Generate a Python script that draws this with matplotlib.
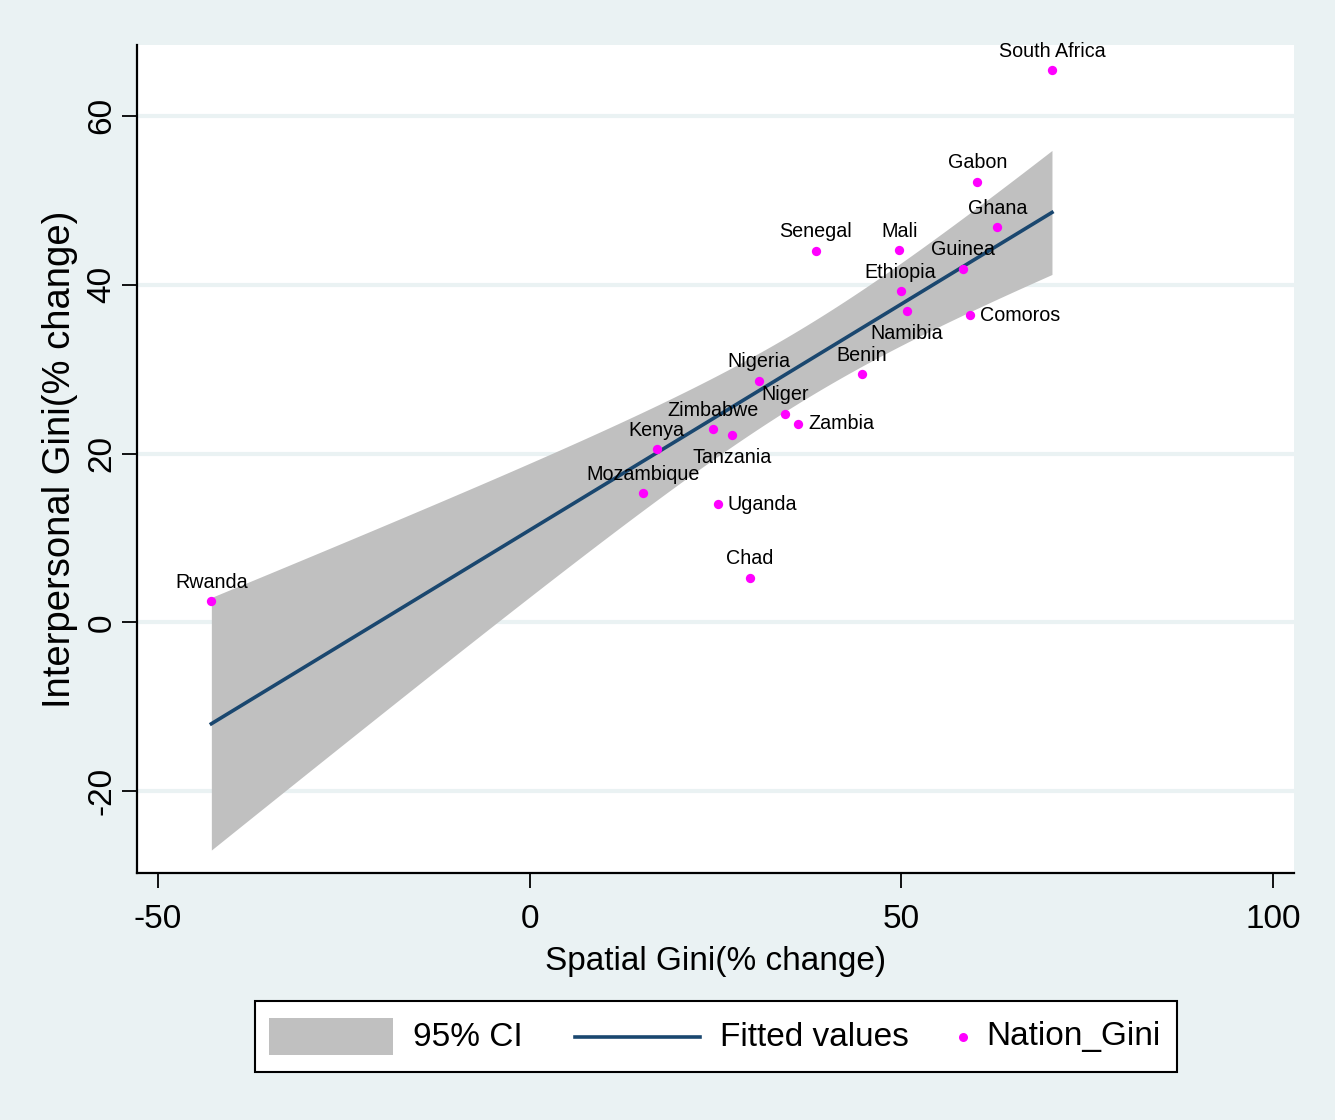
import numpy as np
import matplotlib
matplotlib.use("Agg")
import matplotlib.pyplot as plt
from matplotlib import font_manager
from matplotlib.patches import Rectangle
from matplotlib.lines import Line2D

# country-level change in Gini, percent
countries = ["South Africa", "Gabon", "Ghana", "Mali", "Senegal", "Guinea",
             "Ethiopia", "Namibia", "Comoros", "Benin", "Nigeria", "Niger",
             "Zambia", "Zimbabwe", "Tanzania", "Kenya", "Mozambique",
             "Uganda", "Chad", "Rwanda"]
spatial_gini = [70.25, 60.2, 62.9, 49.7, 38.5, 58.3,
                49.9, 50.7, 59.2, 44.7, 30.8, 34.3,
                36.1, 24.6, 27.2, 17.1, 15.2,
                25.3, 29.6, -42.8]
interp_gini = [65.4, 52.2, 46.8, 44.1, 44.0, 41.9,
               39.2, 36.9, 36.4, 29.4, 28.6, 24.7,
               23.5, 22.9, 22.2, 20.5, 15.3,
               14.0, 5.3, 2.5]

x_ticks = [-50, 0, 50, 100]
y_ticks = [-20, 0, 20, 40, 60]

# marker label position, stata clock style: 12 above, 3 right, 6 below
label_clock = {"Namibia": 6, "Tanzania": 6, "Comoros": 3, "Zambia": 3, "Uganda": 3}

BG = "#EAF2F3"
NAVY = "#1A476F"
BAND = "#C0C0C0"
MAGENTA = "#FF00FF"

names = {f.name for f in font_manager.fontManager.ttflist}
FONT = "Liberation Sans" if "Liberation Sans" in names else "DejaVu Sans"
plt.rcParams["font.family"] = [FONT, "DejaVu Sans"]
plt.rcParams["axes.unicode_minus"] = False

x = np.array(spatial_gini)
y = np.array(interp_gini)

# OLS fit with 95% CI of the mean prediction
n = len(x)
slope, intercept = np.polyfit(x, y, 1)
resid = y - (intercept + slope * x)
s = np.sqrt(np.sum(resid ** 2) / (n - 2))
sxx = np.sum((x - x.mean()) ** 2)
t_crit = 2.1009  # t(0.975, 18)
xs = np.linspace(x.min(), x.max(), 200)
fit = intercept + slope * xs
se = s * np.sqrt(1.0 / n + (xs - x.mean()) ** 2 / sxx)

W, H = 1335, 1120
fig = plt.figure(figsize=(W / 100, H / 100), dpi=100, facecolor=BG)
ax = fig.add_axes([137 / W, 1 - 873 / H, (1294 - 137) / W, (873 - 45) / H])
ax.set_facecolor("white")

ax.fill_between(xs, fit - t_crit * se, fit + t_crit * se, color=BAND, lw=0, zorder=2)
ax.plot(xs, fit, color=NAVY, lw=2.6, zorder=3)
ax.scatter(x, y, s=45, color=MAGENTA, lw=0, zorder=4)

for name, xi, yi in zip(countries, x, y):
    pos = label_clock.get(name, 12)
    if pos == 12:
        off, ha, va = (0, 19), "center", "center"
    elif pos == 6:
        off, ha, va = (0, -23), "center", "center"
    else:
        off, ha, va = (10, 0), "left", "center"
    ax.annotate(name, (xi, yi), xytext=off, textcoords="offset pixels",
                ha=ha, va=va, fontsize=14.2, color="black", zorder=5)

ax.set_xlim(-52.8, 102.8)
ax.set_ylim(-29.7, 68.4)
ax.set_xticks(x_ticks)
ax.set_yticks(y_ticks)
ax.set_yticklabels([str(v) for v in y_ticks], rotation=90, va="center")
ax.tick_params(axis="both", length=11, width=1.3, color="black", labelsize=24)
ax.tick_params(axis="x", pad=11.5)
ax.tick_params(axis="y", pad=3)
ax.yaxis.grid(True, color=BG, lw=3)
ax.set_axisbelow(True)
for side in ("top", "right"):
    ax.spines[side].set_visible(False)
for side in ("left", "bottom"):
    ax.spines[side].set_linewidth(1.6)

ax.set_xlabel("Spatial Gini(% change)", fontsize=24, labelpad=7.5)
ax.set_ylabel("Interpersonal Gini(% change)", fontsize=27.5, labelpad=6)

# legend box below the plot
fig.patches.append(Rectangle((255 / W, 1 - 1072 / H), (1177 - 255) / W, 71 / H,
                             transform=fig.transFigure, facecolor="white",
                             edgecolor="black", lw=1.5))
fig.patches.append(Rectangle((269 / W, 1 - 1055 / H), 124 / W, 37 / H,
                             transform=fig.transFigure, facecolor=BAND, lw=0))
ly = 1 - 1037 / H
fig.lines.append(Line2D([575 / W, 700 / W], [ly, ly], transform=fig.transFigure,
                        color=NAVY, lw=2.6))
fig.lines.append(Line2D([963 / W], [ly], transform=fig.transFigure, marker="o",
                        ms=6.5, color=MAGENTA, mew=0, ls="none"))
for label, lx in (("95% CI", 413), ("Fitted values", 720), ("Nation_Gini", 986)):
    fig.text(lx / W, ly, label, fontsize=24, ha="left", va="center")

fig.savefig("out.png", dpi=100, facecolor=BG)
